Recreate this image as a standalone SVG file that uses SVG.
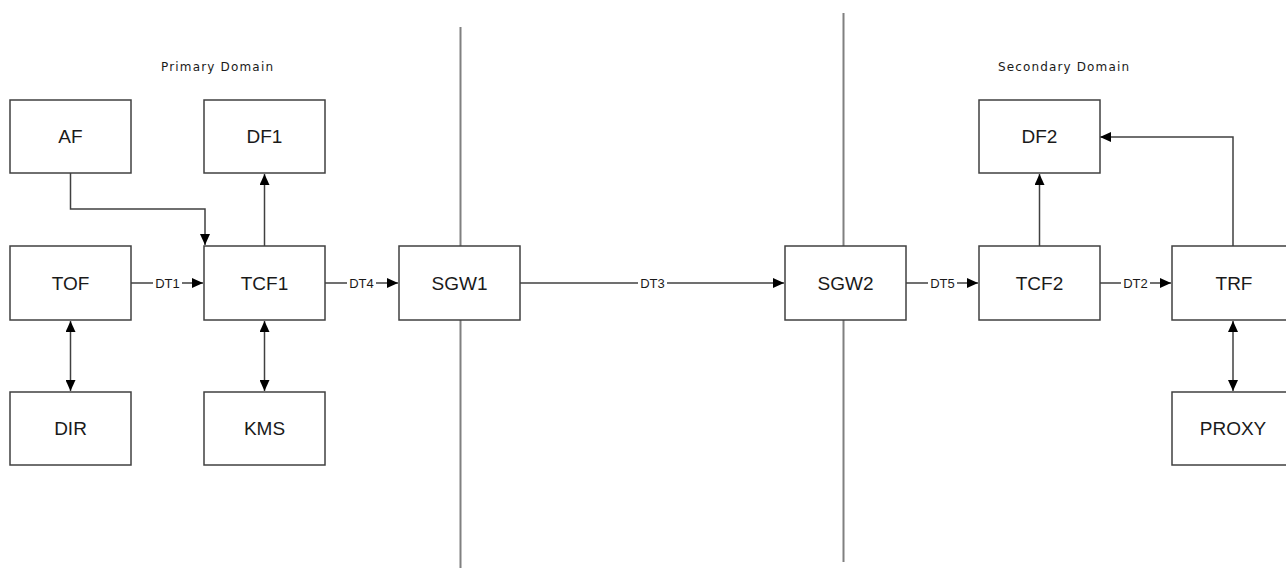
<svg xmlns="http://www.w3.org/2000/svg" width="1286" height="571" viewBox="0 0 1286 571">
<style>
.box{fill:#fff;stroke:#404040;stroke-width:1.5}
.lbl{font-family:"Liberation Sans",Arial,sans-serif;font-size:19px;fill:#1a1a1a;text-anchor:middle}
.cl{font-family:"Liberation Sans",Arial,sans-serif;font-size:13px;fill:#1a1a1a;text-anchor:middle}
.dom{font-family:"DejaVu Sans",sans-serif;font-size:12px;fill:#1a1a1a}
.ln{fill:none;stroke:#404040;stroke-width:1.5}
.div{stroke:#808080;stroke-width:2}
.bg{fill:#fff}
</style>
<defs>
<marker id="ah" markerUnits="userSpaceOnUse" markerWidth="12" markerHeight="10" refX="11" refY="5" orient="auto-start-reverse">
<path d="M0,0 L11,5 L0,10 Z" fill="#000"/>
</marker>
</defs>
<g id="dividers">
<line class="div" x1="460.5" y1="27" x2="460.5" y2="568"/>
<line class="div" x1="843.5" y1="13" x2="843.5" y2="562"/>
</g>
<text class="dom" x="161" y="71" textLength="112">Primary Domain</text>
<text class="dom" x="998" y="71" textLength="131">Secondary Domain</text>
<g id="connectors">
<path class="ln" d="M70.5,173 V209 H205 V245" marker-end="url(#ah)"/>
<path class="ln" d="M264.5,246 V174" marker-end="url(#ah)"/>
<path class="ln" d="M70.5,321 V391" marker-start="url(#ah)" marker-end="url(#ah)"/>
<path class="ln" d="M264.5,321 V391" marker-start="url(#ah)" marker-end="url(#ah)"/>
<path class="ln" d="M131,283 H203" marker-end="url(#ah)"/>
<path class="ln" d="M325,283 H398" marker-end="url(#ah)"/>
<path class="ln" d="M520,283 H784" marker-end="url(#ah)"/>
<path class="ln" d="M906,283 H978" marker-end="url(#ah)"/>
<path class="ln" d="M1100,283 H1171" marker-end="url(#ah)"/>
<path class="ln" d="M1039.5,246 V174" marker-end="url(#ah)"/>
<path class="ln" d="M1233,246 V137 H1100" marker-end="url(#ah)"/>
<path class="ln" d="M1233,321 V391" marker-start="url(#ah)" marker-end="url(#ah)"/>
<rect class="bg" x="153" y="276" width="29" height="14"/>
<text class="cl" x="167.5" y="288">DT1</text>
<rect class="bg" x="347" y="276" width="29" height="14"/>
<text class="cl" x="361.5" y="288">DT4</text>
<rect class="bg" x="638" y="276" width="29" height="14"/>
<text class="cl" x="652.5" y="288">DT3</text>
<rect class="bg" x="928" y="276" width="29" height="14"/>
<text class="cl" x="942.5" y="288">DT5</text>
<rect class="bg" x="1121" y="276" width="29" height="14"/>
<text class="cl" x="1135.5" y="288">DT2</text>
</g>
<g id="AF"><rect class="box" x="10" y="100" width="121" height="73"/><text class="lbl" x="70.5" y="143">AF</text></g>
<g id="DF1"><rect class="box" x="204" y="100" width="121" height="73"/><text class="lbl" x="264.5" y="143">DF1</text></g>
<g id="TOF"><rect class="box" x="10" y="246" width="121" height="74"/><text class="lbl" x="70.5" y="290">TOF</text></g>
<g id="TCF1"><rect class="box" x="204" y="246" width="121" height="74"/><text class="lbl" x="264.5" y="290">TCF1</text></g>
<g id="SGW1"><rect class="box" x="399" y="246" width="121" height="74"/><text class="lbl" x="459.5" y="290">SGW1</text></g>
<g id="DIR"><rect class="box" x="10" y="392" width="121" height="73"/><text class="lbl" x="70.5" y="435">DIR</text></g>
<g id="KMS"><rect class="box" x="204" y="392" width="121" height="73"/><text class="lbl" x="264.5" y="435">KMS</text></g>
<g id="SGW2"><rect class="box" x="785" y="246" width="121" height="74"/><text class="lbl" x="845.5" y="290">SGW2</text></g>
<g id="DF2"><rect class="box" x="979" y="100" width="121" height="73"/><text class="lbl" x="1039.5" y="143">DF2</text></g>
<g id="TCF2"><rect class="box" x="979" y="246" width="121" height="74"/><text class="lbl" x="1039.5" y="290">TCF2</text></g>
<g id="TRF"><rect class="box" x="1172" y="246" width="121" height="74"/><text class="lbl" x="1234" y="290">TRF</text></g>
<g id="PROXY"><rect class="box" x="1172" y="392" width="121" height="73"/><text class="lbl" x="1233" y="435">PROXY</text></g>
</svg>
